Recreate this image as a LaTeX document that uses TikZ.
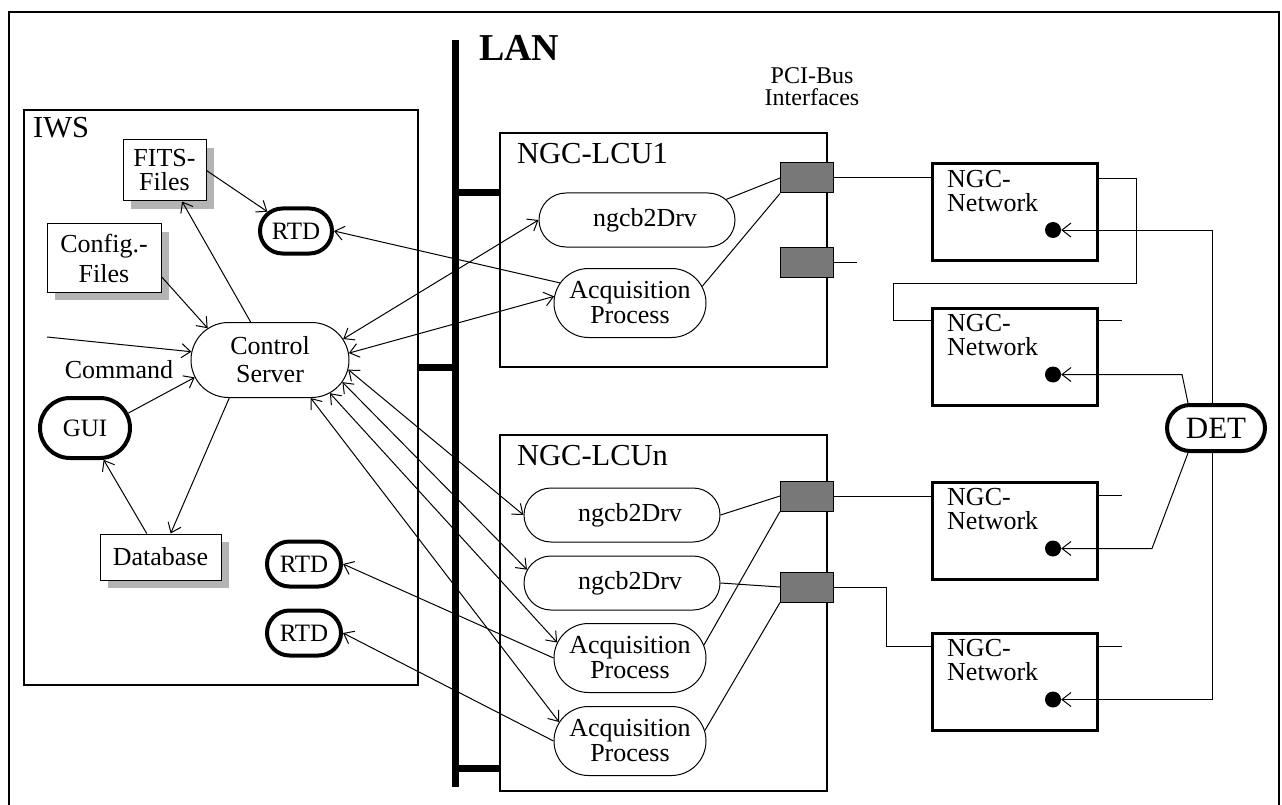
\documentclass[tikz,border=0pt]{standalone}
\usepackage{fontspec}
\setmainfont{Liberation Serif}
\usetikzlibrary{arrows.meta,positioning,calc,shapes.misc,shadows}
\definecolor{PortGray}{RGB}{120,120,120}
\definecolor{ShadowGray}{RGB}{180,180,180}

\begin{document}
\begin{tikzpicture}[x=1pt,y=1pt,font=\fontsize{26}{24}\selectfont,
  file/.style={draw,fill=white,line width=1pt,inner sep=0pt,align=center,
    drop shadow={shadow xshift=8pt,shadow yshift=-8pt,fill=ShadowGray,opacity=1}},
  proc/.style={draw,fill=white,rounded rectangle,line width=1pt,inner sep=0pt,align=center},
  acqproc/.style={proc,minimum width=152pt,minimum height=69pt,font=\fontsize{26}{25}\selectfont},
  drvproc/.style={proc,minimum width=196pt,minimum height=54pt},
  tool/.style={proc,line width=4pt,font=\fontsize{25}{25}\selectfont},
  host/.style={draw,line width=2.5pt,inner sep=0pt},
  port/.style={draw,fill=PortGray,line width=1pt,minimum width=53pt,minimum height=30pt,inner sep=0pt},
  netbox/.style={draw,line width=3pt,minimum width=165pt,minimum height=97pt,inner sep=0pt},
  nettext/.style={anchor=north west,inner sep=0pt,align=left},
  jack/.style={circle,fill=black,minimum size=16pt,inner sep=0pt},
  tag/.style={anchor=north west,inner sep=0pt,font=\fontsize{30.5}{30}\selectfont},
  msg/.style={-{Straight Barb[length=9pt,width=14pt]},line width=1pt},
  duplex/.style={{Straight Barb[length=9pt,width=14pt]}-{Straight Barb[length=9pt,width=14pt]},line width=1pt},
  wire/.style={line width=1pt},
  lanline/.style={line width=7pt}]
\useasboundingbox (0,0) rectangle (1282,-805);
% frame, open at the bottom
\draw[line width=2pt] (9,-815) -- (9,-12) -- (1279,-12) -- (1279,-815);

% LAN backbone
\coordinate (lantop) at (455,-40);
\coordinate (lanbot) at (455,-787);
\draw[lanline] (lantop) -- (lanbot);
\node[tag,font=\fontsize{38}{38}\selectfont\bfseries] (lantxt) at (479,-35) {LAN};
\node[anchor=north,align=center,inner sep=0pt,font=\fontsize{24}{22}\selectfont] (pcitxt) at (812,-67) {PCI-Bus\\Interfaces};

% hosts
\node[host,minimum width=394pt,minimum height=575pt] (iws) at (221,-397.5) {};
\node[host,minimum width=327pt,minimum height=234pt] (lcuone) at (663.5,-250) {};
\node[host,minimum width=327pt,minimum height=356pt] (lcun) at (663.5,-613) {};
\node[tag] (iwstxt) at (33,-117) {IWS};
\node[tag] (lcuonetxt) at (517,-143) {NGC-LCU1};
\node[tag] (lcuntxt) at (517,-445) {NGC-LCUn};
\draw[lanline] (iws.east |- 0,-367) -- (lantop |- 0,-367);
\draw[lanline] (lantop |- 0,-193) -- (lcuone.west |- 0,-193);
\draw[lanline] (lantop |- 0,-768) -- (lcun.west |- 0,-768);

% instrument workstation
\node[file,minimum width=83pt,minimum height=61pt] (fits) at (164.5,-170.5) {FITS-\\Files};
\node[file,minimum width=114pt,minimum height=68pt] (config) at (104,-258) {Config.-\\[6pt]Files};
\node[file,minimum width=121pt,minimum height=46pt] (db) at (160.5,-557) {Database};
\node[tool,minimum width=72pt,minimum height=45pt] (rtdone) at (296,-231) {RTD};
\node[proc,minimum width=158pt,minimum height=75pt] (ctrl) at (270,-360) {Control\\[4pt]Server};
\node[tool,minimum width=90pt,minimum height=60pt] (gui) at (85,-428) {GUI};
\node[tool,minimum width=74pt,minimum height=45pt] (rtdtwo) at (304,-564) {RTD};
\node[tool,minimum width=74pt,minimum height=45pt] (rtdthree) at (304,-633) {RTD};
\node[anchor=base] (cmdtxt) at (119,-378) {Command};
\coordinate (cmdin) at (47,-337);

% LCU processes and PCI interfaces
\node[drvproc] (ngcbone) at (637,-220) {\hspace{16pt}ngcb2Drv};
\node[acqproc] (acqone) at (630,-303) {Acquisition\\Process};
\node[drvproc] (ngcba) at (622,-515) {\hspace{16pt}ngcb2Drv};
\node[drvproc] (ngcbb) at (622,-583) {\hspace{16pt}ngcb2Drv};
\node[acqproc] (acqa) at (630,-658) {Acquisition\\Process};
\node[acqproc] (acqb) at (630,-741) {Acquisition\\Process};
\node[port] (portone) at (807,-178) {};
\node[port] (porttwo) at (807,-262) {};
\node[port] (porta) at (807,-496) {};
\node[port] (portb) at (807,-587) {};

% detector front-end
\foreach \i/\y in {1/-212,2/-356.5,3/-530.5,4/-681.5}{
  \node[netbox] (net\i) at (1015,\y) {};
  \node[nettext] (nettxt\i) at ([shift={(16,-8)}]net\i.north west) {NGC-\\Network};
  \node[jack] (dot\i) at ([shift={(38,-18)}]net\i.center) {};
}
\node[tool,minimum width=98pt,minimum height=46pt,font=\fontsize{31}{31}\selectfont] (det) at (1216,-428) {DET};

% IWS internal flow
\draw[msg] (fits.east) -- (rtdone);
\draw[msg] (ctrl.117) -- (fits);
\draw[msg] (config.-18) -- (ctrl.153);
\draw[msg] (cmdin) -- (ctrl.174);
\draw[msg] (gui.19) -- (ctrl.193);
\draw[msg] (ctrl.223) -- (db);
\draw[msg] (db) -- (gui);

% across the LAN
\draw[msg] (acqone.164) -- (rtdone.east);
\draw[duplex] (ctrl.16) -- (ngcbone.west);
\draw[duplex] (ctrl.5) -- (acqone.175);
\draw[duplex] (ctrl.-7) -- (ngcba.west);
\draw[duplex] (ctrl.-17) -- (ngcbb.172);
\draw[duplex] (ctrl.-29) -- (acqa.168);
\draw[duplex] (ctrl.-43) -- (acqb.165);
\draw[msg] (acqa.west) -- (rtdtwo.east);
\draw[msg] (acqb.west) -- (rtdthree.east);

% processes to interfaces
\draw[wire] (ngcbone.13) -- (portone.west);
\draw[wire] (acqone.13) -- (portone.south west);
\draw[wire] (ngcba.east) -- (porta.west);
\draw[wire] (acqa.10) -- (porta.south west);
\draw[wire] (ngcbb.east) -- (portb.west);
\draw[wire] (acqb.8) -- (portb.south west);

% fibre links
\coordinate (netloop) at (893,-283);
\draw[wire] (portone.east) -- (portone -| net1.west);
\draw[wire] (porttwo.east) -- ++(23,0);
\draw[wire] (porta.east) -- (porta -| net3.west);
\draw[wire] (portb.east) -- ++(52,0) |- ([yshift=-15pt]net4.north west);
\draw[wire] ([yshift=-17pt]net1.north east) -- ++(37,0) |- (netloop) |- ([yshift=-14pt]net2.north west);
\draw[wire] ([yshift=-14pt]net2.north east) -- ++(23,0);
\draw[wire] ([yshift=-15pt]net3.north east) -- ++(23,0);
\draw[wire] ([yshift=-15pt]net4.north east) -- ++(23,0);

% detector signals
\coordinate (detnw) at ([xshift=-28pt]det.north);
\coordinate (detsw) at ([xshift=-28pt]det.south);
\coordinate (kinktwo) at (detnw |- dot2);
\coordinate (kinkthree) at (detsw |- dot3);
\draw[msg] ([xshift=-4pt]det.north) |- (dot1);
\draw[msg] (detnw) -- ([xshift=-6pt]kinktwo) -- (dot2);
\draw[msg] (detsw) -- ([xshift=-36pt]kinkthree) -- (dot3);
\draw[msg] ([xshift=-4pt]det.south) |- (dot4);
\end{tikzpicture}
\end{document}
